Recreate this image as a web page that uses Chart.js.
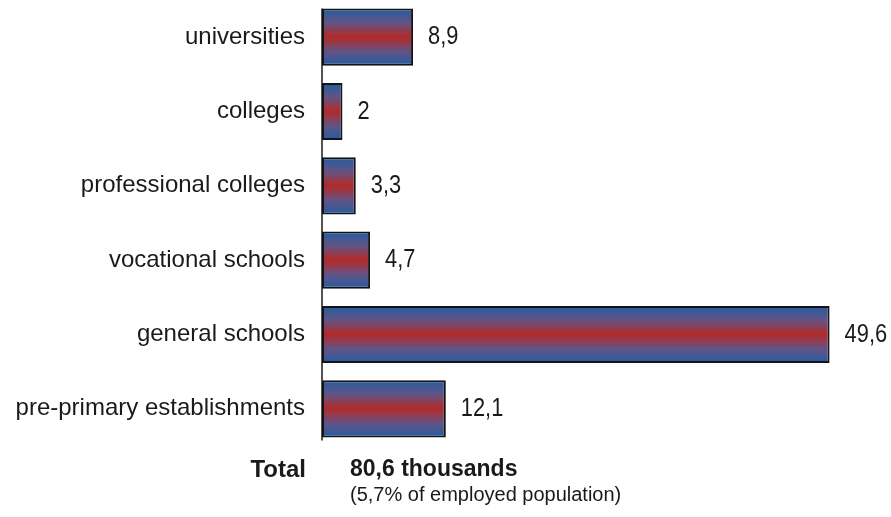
<!DOCTYPE html>
<html>
<head>
<meta charset="utf-8">
<script src="https://cdn.jsdelivr.net/npm/chart.js@4"></script>
<style>
  html, body { margin: 0; padding: 0; background: #fff; }
  #wrap { position: relative; width: 891px; height: 517px; }
  #c { position: absolute; left: 0; top: 0; }
  .foot { position: absolute; font-family: "Liberation Sans", Arial, sans-serif; color: #1a1a1a; white-space: nowrap; }
</style>
</head>
<body>
<div id="wrap">
  <canvas id="c" width="891" height="517"></canvas>
  <div class="foot" style="right:585px; top:455px; font-size:24px; font-weight:bold;">Total</div>
  <div class="foot" style="left:350px; top:455px; font-size:23px; font-weight:bold;">80,6 thousands</div>
  <div class="foot" style="left:350px; top:483px; font-size:20px;">(5,7% of employed population)</div>
</div>
<script>
const categories = ["universities", "colleges", "professional colleges", "vocational schools", "general schools", "pre-primary establishments"];
const values = [8.9, 2, 3.3, 4.7, 49.6, 12.1];
const valueLabels = ["8,9", "2", "3,3", "4,7", "49,6", "12,1"];

const gradientPlugin = {
  id: 'barGradient',
  beforeDatasetsDraw(chart) {
    const c = chart.ctx;
    chart.getDatasetMeta(0).data.forEach((el) => {
      const top = el.y - el.height / 2, bot = el.y + el.height / 2;
      if (!isFinite(top) || !isFinite(bot)) return;
      const g = c.createLinearGradient(0, top, 0, bot);
      g.addColorStop(0, '#235da2');
      g.addColorStop(0.25, '#625385');
      g.addColorStop(0.5, '#b42a27');
      g.addColorStop(0.75, '#625385');
      g.addColorStop(1, '#235da2');
      el.options.backgroundColor = g;
    });
  }
};

const valueLabelPlugin = {
  id: 'valueLabels',
  afterDatasetsDraw(chart) {
    const c = chart.ctx;
    const meta = chart.getDatasetMeta(0);
    meta.data.forEach((el, i) => {
      c.save();
      c.translate(el.x + 15, el.y);
      c.scale(0.84, 1);
      c.font = '26px "Liberation Sans", Arial, sans-serif';
      c.fillStyle = '#1a1a1a';
      c.textAlign = 'left';
      c.textBaseline = 'middle';
      c.fillText(valueLabels[i], 0, 0);
      c.restore();
    });
  }
};

const axisLinePlugin = {
  id: 'axisLine',
  beforeDatasetsDraw(chart) {
    const meta = chart.getDatasetMeta(0);
    const first = meta.data[0], last = meta.data[meta.data.length - 1];
    const x = chart.scales.x.getPixelForValue(0);
    const c = chart.ctx;
    c.save();
    c.strokeStyle = '#1a1a1a';
    c.lineWidth = 1.5;
    c.beginPath();
    c.moveTo(x, first.y - first.height / 2);
    c.lineTo(x, last.y + last.height / 2 + 3);
    c.stroke();
    c.restore();
  }
};

const chart = new Chart(document.getElementById('c'), {
  type: 'bar',
  data: {
    labels: categories,
    datasets: [{
      data: values,
      backgroundColor: (ctx) => '#b42a27',
      borderColor: '#141414',
      borderWidth: 2,
      borderSkipped: false,
      barPercentage: 0.77,
      categoryPercentage: 1.0
    }]
  },
  options: {
    indexAxis: 'y',
    responsive: false,
    animation: false,
    layout: { padding: { top: 0, bottom: 71, left: 0, right: 0 } },
    plugins: { legend: { display: false }, tooltip: { enabled: false } },
    scales: {
      x: {
        display: false,
        min: 0,
        max: 55.6
      },
      y: {
        grid: { display: false, drawTicks: false, tickLength: 0 },
        border: { display: false },
        ticks: {
          color: '#1a1a1a',
          padding: 17,
          font: { family: '"Liberation Sans", Arial, sans-serif', size: 24 }
        },
        afterFit(scale) {
          scale.width = 322;
          scale.paddingTop = 0;
          scale.paddingBottom = 0;
        }
      }
    }
  },
  plugins: [axisLinePlugin, gradientPlugin, valueLabelPlugin]
});
</script>
</body>
</html>
